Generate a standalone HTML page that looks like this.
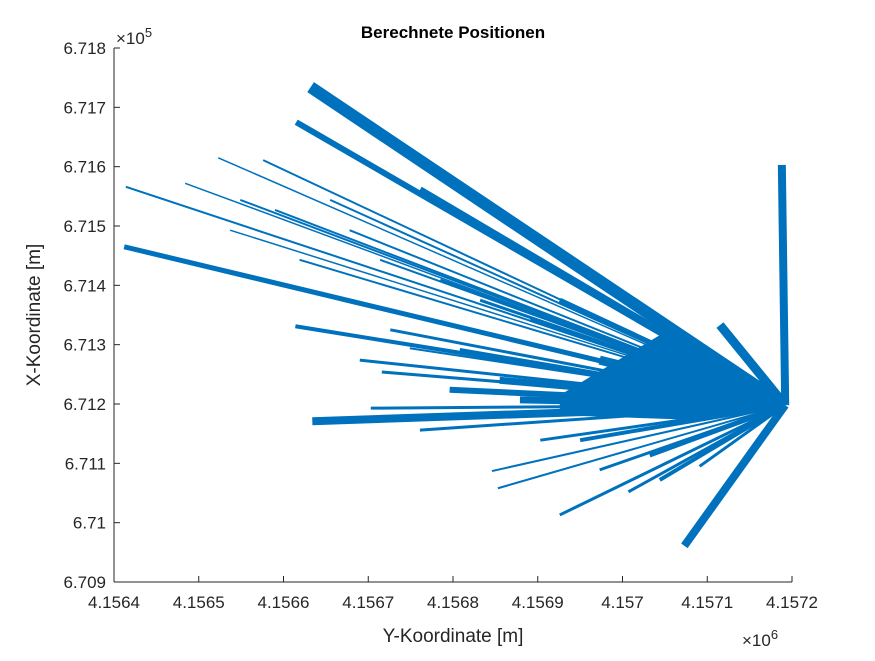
<!DOCTYPE html>
<html><head><meta charset="utf-8"><style>
body{margin:0;background:#fff;}
svg text{font-family:"Liberation Sans",Arial,sans-serif;}
</style></head><body>
<svg id="chart" width="875" height="656" viewBox="0 0 875 656" xmlns="http://www.w3.org/2000/svg">
<rect width="875" height="656" fill="#fff"/>
<g id="plot"></g>
<g id="axes"></g>
<text x="453" y="38" text-anchor="middle" font-size="17" font-weight="bold" fill="#000">Berechnete Positionen</text>
<text x="453" y="642" text-anchor="middle" font-size="19" fill="#262626">Y-Koordinate [m]</text>
<text transform="translate(40,315) rotate(-90)" text-anchor="middle" font-size="19" fill="#262626">X-Koordinate [m]</text>
<text x="116" y="44" font-size="17" fill="#262626">×10<tspan dy="-7" font-size="13">5</tspan></text>
<text x="742" y="646" font-size="17" fill="#262626">×10<tspan dy="-7" font-size="13">6</tspan></text>
</svg>
<script>
const xTicks=[4156400,4156500,4156600,4156700,4156800,4156900,4157000,4157100,4157200];
const xTickLabels=["4.1564","4.1565","4.1566","4.1567","4.1568","4.1569","4.157","4.1571","4.1572"];
const yTicks=[670900,671000,671100,671200,671300,671400,671500,671600,671700,671800];
const yTickLabels=["6.709","6.71","6.711","6.712","6.713","6.714","6.715","6.716","6.717","6.718"];
const hubX=4157192, hubY=671198;
const endX=[4156632,4156615,4156414,4156412,4156523,4156484,4156576,4156614,4156634,4156703,4156716,4156749,4156846,4156853,4156926,4157007,4157073,4157115,4157188,4156761,4156590,4156619,4156667,4156726,4156808,4156855,4156879,4156903,4156973,4157044,4157091,4156537,4156655,4156926,4156973,
 4156678,4156714,4156785,4156832,4156891,4156796,4156761,4156950,4157032,4156997,4157044,4156549,4156690];
const endY=[671734,671675,671566,671465,671615,671572,671611,671331,671171,671193,671254,671294,671087,671058,671013,671052,670961,671333,671603,671561,671527,671443,671375,671325,671291,671240,671207,671139,671089,671072,671095,671493,671544,671375,671274,
 671493,671443,671409,671375,671342,671224,671156,671139,671114,671240,671308,671544,671274];
const spread=[12,6,2,5,1.5,1.5,2,4,8,3,3,2,2,2,3,3,8,9,8,7,2,2,2,3,4,7,7,3,3,4,3,1.5,2,5,9,
 2,2,3,3,4,6,3,4,5,12,10,2,3];
const wedgeX=[4156926,4157044,4157192,4157091,4156926];
const wedgeY=[671215,671316,671198,671173,671181];
const X0=114,X1=792,Y0=582,Y1=48;
const sx=v=>X0+(v-4156400)/(4157200-4156400)*(X1-X0);
const sy=v=>Y0-(v-670900)/(671800-670900)*(Y0-Y1);
const NS="http://www.w3.org/2000/svg";
const plot=document.getElementById('plot'), axes=document.getElementById('axes');
function mk(tag,at,parent){const e=document.createElementNS(NS,tag);for(const k in at)e.setAttribute(k,at[k]);parent.appendChild(e);return e;}
const wedge=mk('polygon',{points:wedgeX.map((x,i)=>sx(x)+','+sy(wedgeY[i])).join(' '),fill:'#0072BD'},plot);


for(let i=0;i<endX.length;i++){
  const l=mk('line',{x1:sx(hubX),y1:sy(hubY),x2:sx(endX[i]),y2:sy(endY[i]),stroke:'#0072BD','stroke-width':spread[i]},plot);
  
  
}
const xa=mk('line',{x1:X0,y1:Y0,x2:X1,y2:Y0,stroke:'#262626'},axes);


const ya=mk('line',{x1:X0,y1:Y0,x2:X0,y2:Y1,stroke:'#262626'},axes);


xTicks.forEach((v,i)=>{
  const x=sx(v);
  mk('line',{x1:x,y1:Y0,x2:x,y2:Y0-6,stroke:'#262626'},axes);
  const t=mk('text',{x:x,y:Y0+26,'text-anchor':'middle','font-size':17,fill:'#262626'},axes);
  t.textContent=xTickLabels[i];
  
  
});
yTicks.forEach((v,i)=>{
  const y=sy(v);
  mk('line',{x1:X0,y1:y,x2:X0+6,y2:y,stroke:'#262626'},axes);
  const t=mk('text',{x:X0-8,y:y+6,'text-anchor':'end','font-size':17,fill:'#262626'},axes);
  t.textContent=yTickLabels[i];
  
  
});
</script>
</body></html>
